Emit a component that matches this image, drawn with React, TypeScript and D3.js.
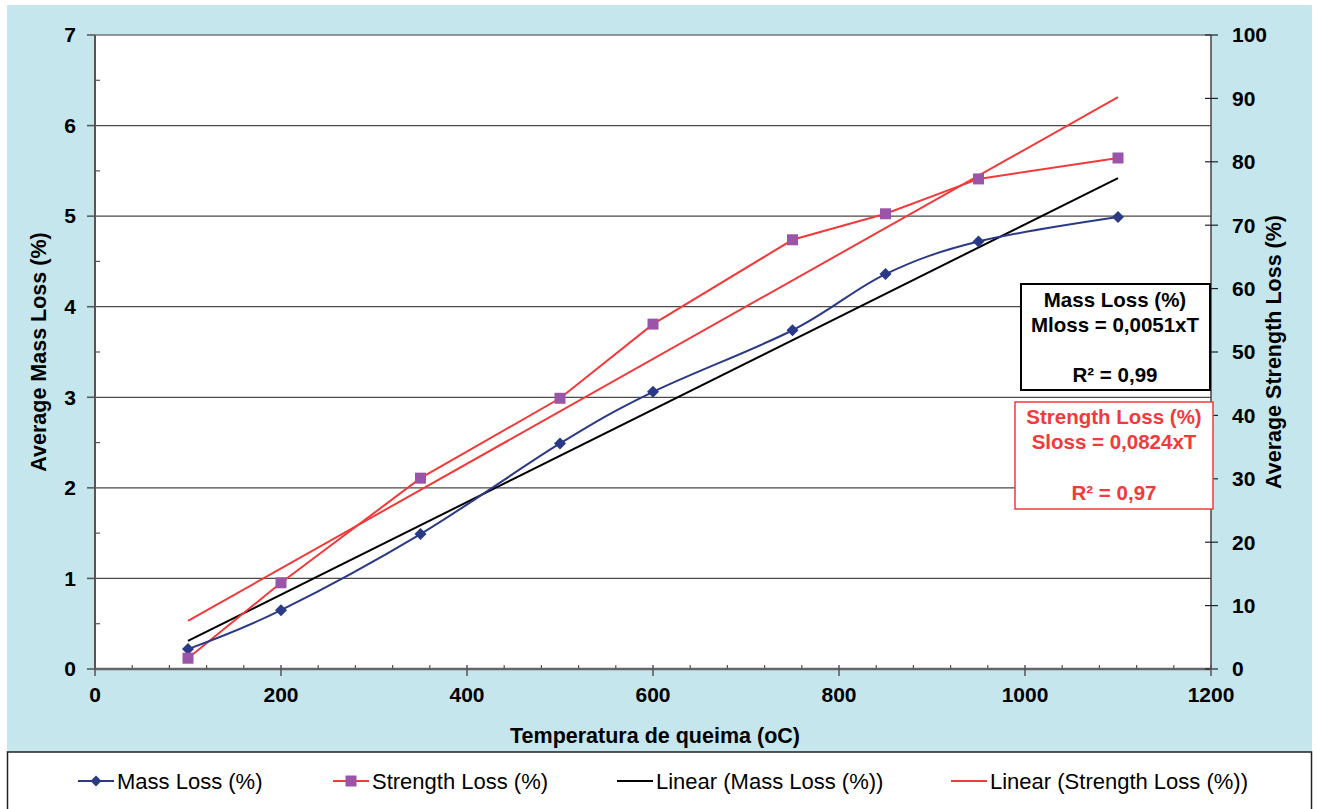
import React from "react";
import * as d3 from "d3";

const temps = [100, 200, 350, 500, 600, 750, 850, 950, 1100];
const massLoss = [0.22, 0.65, 1.49, 2.49, 3.06, 3.74, 4.36, 4.72, 4.99];
const strengthLoss = [1.7, 13.6, 30.1, 42.7, 54.4, 67.7, 71.8, 77.3, 80.6];
const trendTemps = [100, 1100];
const massTrend = [0.31, 5.42];
const strengthTrend = [7.6, 90.2];
const xTicks = [0, 200, 400, 600, 800, 1000, 1200];
const yLeftTicks = [0, 1, 2, 3, 4, 5, 6, 7];
const yRightTicks = [0, 10, 20, 30, 40, 50, 60, 70, 80, 90, 100];
const legendItems = ["Mass Loss (%)", "Strength Loss (%)", "Linear (Mass Loss (%))", "Linear (Strength Loss (%))"];

const W = 1317, H = 809;
const L = 95, R = 1211, T = 35, B = 669;
const FONT = "'Liberation Sans', Arial, sans-serif";
const BG = "#C4E6EC";
const NAVY = "#2B3A86";
const PURPLE = "#9B55A8";
const RED = "#F23A3A";

export default function App() {
  const x = d3.scaleLinear().domain([0, 1200]).range([L, R]);
  const yL = d3.scaleLinear().domain([0, 7]).range([B, T]);
  const yR = d3.scaleLinear().domain([0, 100]).range([B, T]);

  const massPts: [number, number][] = temps.map((t, i) => [x(t), yL(massLoss[i])]);
  const strPts: [number, number][] = temps.map((t, i) => [x(t), yR(strengthLoss[i])]);
  const smooth = d3.line().curve(d3.curveCardinal.tension(0));
  const straight = d3.line();

  const massTrendPath = straight(trendTemps.map((t, i) => [x(t), yL(massTrend[i])] as [number, number]))!;
  const strTrendPath = straight(trendTemps.map((t, i) => [x(t), yR(strengthTrend[i])] as [number, number]))!;

  const minorX = d3.range(0, 1201, 40).filter((v) => v % 200 !== 0);
  const minorYL = d3.range(0.5, 7, 1);

  const diamond = (cx: number, cy: number, s = 6) => `M${cx},${cy - s}L${cx + s},${cy}L${cx},${cy + s}L${cx - s},${cy}Z`;

  const legendX = [78, 333, 617, 951];
  const legY = 781;

  return (
    <svg width={W} height={H} style={{ position: "absolute", left: 0, top: 0, background: "#fff" }} fontFamily={FONT}>
      <rect x={7} y={5} width={1305} height={747} fill={BG} />
      <rect x={7.5} y={752} width={1304} height={60} fill="#fff" stroke="#222" strokeWidth={1.5} />
      <rect x={L} y={T} width={R - L} height={B - T} fill="#fff" />
      {yLeftTicks.slice(1, -1).map((v) => (
        <line key={"g" + v} x1={L} x2={R} y1={yL(v)} y2={yL(v)} stroke="#4a4a4a" strokeWidth={1.2} />
      ))}
      <line x1={L} x2={R} y1={T} y2={T} stroke="#777" strokeWidth={1.5} />
      <line x1={L} x2={L} y1={T} y2={B} stroke="#555" strokeWidth={2} />
      <line x1={R} x2={R} y1={T} y2={B} stroke="#444" strokeWidth={1.5} />
      <line x1={L} x2={R} y1={B} y2={B} stroke="#666" strokeWidth={2.5} />
      {yLeftTicks.map((v) => (
        <g key={"yl" + v}>
          <line x1={L - 8} x2={L} y1={yL(v)} y2={yL(v)} stroke="#555" strokeWidth={1.5} />
          <text x={76} y={yL(v)} dy="0.35em" textAnchor="end" fontWeight="bold" fontSize={21} fill="#000">{v}</text>
        </g>
      ))}
      {minorYL.map((v) => (
        <line key={"ml" + v} x1={L} x2={L + 5} y1={yL(v)} y2={yL(v)} stroke="#555" strokeWidth={1.2} />
      ))}
      {yRightTicks.map((v) => (
        <g key={"yr" + v}>
          <line x1={R - 6} x2={R + 7} y1={yR(v)} y2={yR(v)} stroke="#222" strokeWidth={1.2} />
          <text x={1232} y={yR(v)} dy="0.35em" textAnchor="start" fontWeight="bold" fontSize={21} fill="#000">{v}</text>
        </g>
      ))}
      {xTicks.map((v) => (
        <g key={"x" + v}>
          <line x1={x(v)} x2={x(v)} y1={B - 4} y2={B + 7} stroke="#555" strokeWidth={1.5} />
          <text x={x(v)} y={695} dy="0.35em" textAnchor="middle" fontWeight="bold" fontSize={21} fill="#000">{v}</text>
        </g>
      ))}
      {minorX.map((v) => (
        <line key={"mx" + v} x1={x(v)} x2={x(v)} y1={B - 4} y2={B} stroke="#555" strokeWidth={1.2} />
      ))}
      <text transform={`translate(38,${(T + B) / 2}) rotate(-90)`} textAnchor="middle" dy="0.35em" fontWeight="bold" fontSize={21.5}>Average Mass Loss (%)</text>
      <text transform={`translate(1273,${(T + B) / 2}) rotate(-90)`} textAnchor="middle" dy="0.35em" fontWeight="bold" fontSize={21.5}>Average Strength Loss (%)</text>
      <text x={655} y={735} dy="0.35em" textAnchor="middle" fontWeight="bold" fontSize={21.5}>Temperatura de queima (oC)</text>
      <path d={massTrendPath} fill="none" stroke="#000" strokeWidth={2} />
      <path d={strTrendPath} fill="none" stroke={RED} strokeWidth={2} />
      <path d={straight(strPts)!} fill="none" stroke={RED} strokeWidth={2} />
      <path d={smooth(massPts)!} fill="none" stroke={NAVY} strokeWidth={2} />
      {massPts.map(([cx, cy], i) => (
        <path key={"md" + i} d={diamond(cx, cy)} fill={NAVY} />
      ))}
      {strPts.map(([cx, cy], i) => (
        <rect key={"sq" + i} x={cx - 5.5} y={cy - 5.5} width={11} height={11} fill={PURPLE} />
      ))}
      <rect x={1021} y={284} width={189} height={106} fill="#fff" stroke="#000" strokeWidth={2} />
      <g fontWeight="bold" fontSize={20.5} textAnchor="middle" fill="#000">
        <text x={1115} y={300} dy="0.35em">Mass Loss (%)</text>
        <text x={1115} y={325} dy="0.35em">Mloss = 0,0051xT</text>
        <text x={1115} y={375} dy="0.35em">R² = 0,99</text>
      </g>
      <rect x={1015} y={402} width={198} height={107} fill="#fff" stroke={RED} strokeWidth={1.5} />
      <g fontWeight="bold" fontSize={20.5} textAnchor="middle" fill={RED}>
        <text x={1114} y={417} dy="0.35em">Strength Loss (%)</text>
        <text x={1114} y={442} dy="0.35em">Sloss = 0,0824xT</text>
        <text x={1114} y={493} dy="0.35em">R² = 0,97</text>
      </g>
      {legendItems.map((label, i) => {
        const lx = legendX[i];
        const color = i === 0 ? NAVY : i === 2 ? "#000" : RED;
        return (
          <g key={label}>
            <line x1={lx} x2={lx + 36} y1={legY} y2={legY} stroke={color} strokeWidth={2} />
            {i === 0 && <path d={diamond(lx + 18, legY, 5.5)} fill={NAVY} />}
            {i === 1 && <rect x={lx + 18 - 5.5} y={legY - 5.5} width={11} height={11} fill={PURPLE} />}
            <text x={lx + 39} y={legY} dy="0.35em" fontSize={22} fill="#000">{label}</text>
          </g>
        );
      })}
    </svg>
  );
}
